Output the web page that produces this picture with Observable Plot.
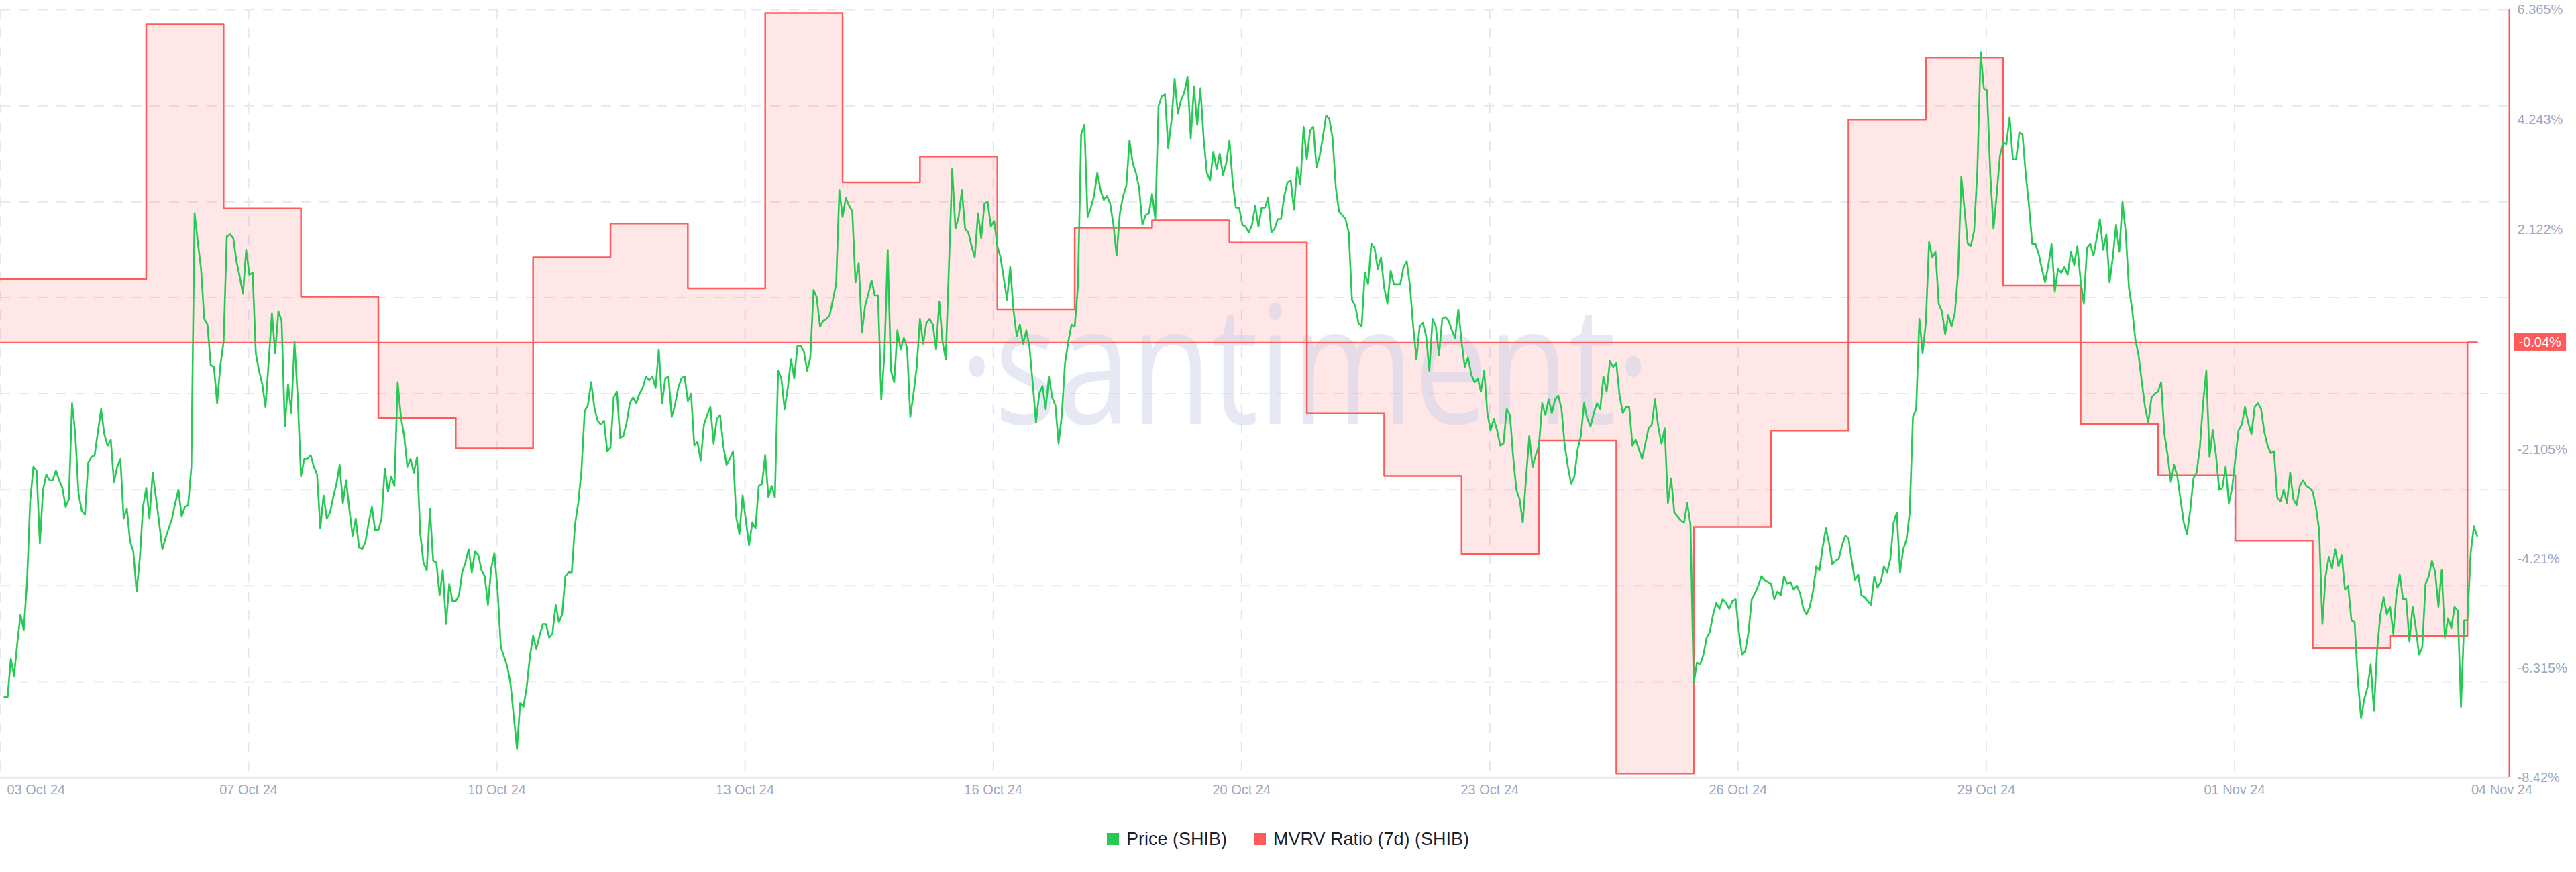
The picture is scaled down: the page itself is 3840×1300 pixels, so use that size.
<!DOCTYPE html>
<html>
<head>
<meta charset="utf-8">
<script src="https://cdn.jsdelivr.net/npm/d3@7"></script>
<script src="https://cdn.jsdelivr.net/npm/@observablehq/plot@0.6"></script>
<style>
html, body { margin: 0; padding: 0; background: #ffffff; }
#wrap { position: relative; width: 3840px; height: 1300px; background: #ffffff; overflow: hidden; font-family: "Liberation Sans", Arial, sans-serif; }
.layer { position: absolute; left: 0; top: 0; }
.layer svg { display: block; background: transparent; }
#legend { position: absolute; left: 0; top: 1232px; width: 3840px; height: 38px; display: flex; justify-content: center; align-items: center; font-size: 27px; color: #1b1e2d; }
#legend .item { display: flex; align-items: center; margin: 0 20px; }
#legend .sw { width: 18px; height: 18px; margin-right: 11px; }
</style>
</head>
<body>
<div id="wrap">
  <div id="l1" class="layer"></div>
  <div id="l2" class="layer"></div>
  <div id="l3" class="layer"></div>
  <div id="legend"></div>
</div>
<script>
// ---------------- DATA ----------------
const seriesNames = ["Price (SHIB)", "MVRV Ratio (7d) (SHIB)"];
const seriesColors = ["#26c953", "#ff5b5b"];

// visible time window
const xStart = "2024-10-04T02:45:00Z";
const xEnd = "2024-11-05T12:58:00Z";

// SHIB price, hourly readings starting at priceStart, in units of 1e-8 USD
const priceStart = "2024-10-04T04:00:00Z";
const priceUnit = 1e-8;
const shibPrice = [
1642,1642,1662,1653,1670,1685,1677,1701,1744,1762,1760,1722,1750,1758,1755,1755,1760,1755,1751,1741,
1745,1795,1779,1748,1739,1737,1764,1767,1768,1780,1792,1779,1773,1776,1754,1762,1766,1735,1740,1723,
1718,1697,1714,1741,1751,1735,1759,1746,1733,1719,1725,1730,1735,1743,1750,1736,1741,1742,1762,1894,
1879,1865,1839,1836,1815,1814,1795,1815,1827,1882,1883,1881,1869,1861,1852,1875,1862,1863,1821,1812,
1805,1793,1817,1842,1821,1843,1838,1783,1805,1790,1827,1798,1757,1766,1766,1768,1762,1758,1730,1747,
1735,1738,1746,1753,1763,1743,1755,1740,1726,1735,1720,1719,1723,1733,1741,1729,1729,1735,1761,1749,
1757,1752,1806,1788,1778,1762,1766,1759,1767,
1727,1712,1708,1740,1713,1712,1695,1708,1680,1701,1692,1692,1695,1707,1712,1719,1707,1718,1716,1708,
1705,1690,1709,1717,1697,1668,1663,1658,1649,1632,1615,1639,1637,1647,1663,1674,1667,1674,1680,1680,
1673,1675,1690,1681,1685,1705,1707,1707,1732,1743,1760,1791,1794,1806,1793,1786,1784,1786,1770,1772,
1798,1801,1777,1778,1785,1795,1798,1795,1800,1803,1809,1807,1809,1803,1823,1795,1808,1809,1788,1794,
1803,1808,1809,1796,1800,1773,1775,1765,1784,1789,1793,1774,1787,1789,1773,1763,1766,1770,1736,1727,
1747,1734,1721,1733,1730,1752,1753,1768,1746,1752,1746,1812,1808,1792,1803,1818,1808,1825,1825,1822,
1812,1819,1854,1850,1835,1838,1839,1841,1849,
1857,1906,1892,1902,1898,1895,1858,1868,1832,1846,1852,1859,1851,1851,1797,1821,1875,1812,1806,1833,
1823,1829,1824,1788,1800,1814,1839,1826,1837,1839,1836,1823,1848,1827,1818,1867,1917,1886,1892,1906,
1886,1884,1877,1871,1894,1881,1899,1900,1887,1890,1877,1871,1860,1849,1866,1844,1830,1836,1826,1833,
1824,1805,1785,1800,1804,1792,1809,1798,1794,1774,1789,1816,1827,1836,1835,1856,1935,1940,1892,1897,
1903,1915,1906,1901,1903,1899,1888,1872,1894,1903,1908,1932,1920,1915,1907,1888,1893,1894,1904,1891,
1950,1955,1956,1928,1942,1964,1946,1953,1957,1965,1933,1960,1940,1959,1933,1915,1911,1926,1917,1925,
1914,1920,1932,1910,1897,1897,1888,1887,1884,
1888,1898,1887,1897,1897,1902,1884,1886,1891,1891,1903,1910,1911,1896,1918,1909,1939,1922,1937,1939,
1918,1924,1934,1945,1943,1933,1907,1895,1893,1891,1884,1849,1846,1837,1835,1863,1857,1878,1876,1865,
1871,1855,1847,1864,1857,1857,1857,1866,1869,1856,1835,1818,1835,1837,1830,1812,1839,1835,1820,1839,
1840,1838,1833,1829,1844,1827,1814,1819,1810,1806,1808,1801,1812,1790,1781,1787,1781,1773,1774,1792,
1789,1767,1750,1745,1733,1756,1778,1762,1768,1773,1795,1789,1797,1790,1797,1799,1792,1773,1762,1753,
1757,1771,1778,1795,1787,1783,1790,1795,1792,1809,1801,1817,1814,1816,1799,1790,1793,1793,1773,1776,
1771,1766,1774,1782,1784,1797,1783,1774,1782,
1743,1756,1738,1736,1734,1733,1743,1732,1649,1660,1659,1664,1673,1676,1685,1691,1688,1693,1691,1688,
1692,1693,1676,1664,1666,1676,1693,1696,1700,1705,1703,1702,1701,1693,1697,1695,1705,1701,1702,1698,
1700,1696,1688,1685,1689,1697,1710,1708,1720,1730,1722,1711,1713,1714,1721,1726,1725,1713,1703,1706,
1695,1694,1692,1690,1705,1699,1702,1710,1707,1714,1733,1738,1707,1719,1724,1738,1788,1792,1839,1821,
1837,1879,1871,1874,1847,1843,1831,1841,1835,1842,1863,1913,1896,1878,1877,1885,1917,1978,1959,1958,
1914,1886,1904,1924,1931,1930,1944,1922,1922,1936,1935,1914,1898,1878,1878,1873,1865,1858,1867,1878,
1853,1865,1863,1866,1862,1874,1867,1877,1859,
1847,1876,1878,1872,1881,1891,1875,1883,1858,1871,1888,1874,1900,1884,1855,1844,1828,1820,1806,1793,
1785,1798,1800,1801,1806,1779,1768,1754,1763,1757,1745,1733,1727,1739,1756,1759,1772,1795,1812,1767,
1781,1768,1750,1751,1762,1743,1751,1766,1781,1784,1793,1785,1779,1793,1795,1792,1780,1773,1769,1770,
1746,1744,1750,1743,1759,1745,1742,1752,1755,1752,1751,1749,1741,1729,1680,1705,1715,1709,1719,1710,
1716,1698,1700,1682,1681,1651,1631,1641,1647,1659,1635,1667,1685,1694,1685,1689,1675,1696,1706,1693,
1693,1671,1689,1678,1664,1668,1701,1705,1713,1707,1689,1708,1673,1683,1678,1689,1687,1637,1682,1682,
1717,1731,1726
];

// MVRV Ratio (7d), daily values (%), plus the latest reading
const mvrvDates = [
"2024-10-04","2024-10-05","2024-10-06","2024-10-07","2024-10-08","2024-10-09","2024-10-10","2024-10-11",
"2024-10-12","2024-10-13","2024-10-14","2024-10-15","2024-10-16","2024-10-17","2024-10-18","2024-10-19",
"2024-10-20","2024-10-21","2024-10-22","2024-10-23","2024-10-24","2024-10-25","2024-10-26","2024-10-27",
"2024-10-28","2024-10-29","2024-10-30","2024-10-31","2024-11-01","2024-11-02","2024-11-03","2024-11-04",
"2024-11-05","2024-11-05T03:00:00Z"
];
const mvrvValues = [
1.18,1.18,6.08,2.54,0.84,-1.49,-2.08,1.60,2.25,1.00,6.30,3.04,3.54,0.60,2.17,2.31,1.88,
-1.40,-2.61,-4.11,-1.93,-8.34,-3.59,-1.74,4.25,5.44,1.05,-1.61,-2.60,-3.86,-5.92,-5.69,-0.04,-0.04
];

// axes
const mvrvTicks = [6.365, 4.243, 2.122, -2.105, -4.21, -6.315, -8.42];
const priceGrid = [1650, 1700, 1750, 1800, 1850, 1900, 1950, 2000];
const priceFloor = 1600;
const gridDates = ["2024-10-04T02:45:00Z","2024-10-07T07:45:00Z","2024-10-10T12:45:00Z","2024-10-13T17:45:00Z",
"2024-10-16T22:45:00Z","2024-10-20T03:45:00Z","2024-10-23T08:45:00Z","2024-10-26T13:45:00Z",
"2024-10-29T18:45:00Z","2024-11-01T23:45:00Z"];
const xTickDates = gridDates.slice(1);
const xTickLabels = ["07 Oct 24","10 Oct 24","13 Oct 24","16 Oct 24","20 Oct 24","23 Oct 24","26 Oct 24","29 Oct 24","01 Nov 24"];
const firstLabel = "03 Oct 24";
const lastLabel = "04 Nov 24";
const watermark = "\u00B7santiment\u00B7";

// ---------------- BUILD ----------------
const RED = seriesColors[1], GREEN = seriesColors[0];
const AXIS_TXT = "#9da7c0";
const GRID = "#e4e7f1";
const FONT = "Liberation Sans, Arial, sans-serif";

const t0 = new Date(priceStart).getTime();
const priceRows = shibPrice.map((v, i) => ({date: new Date(t0 + i * 3600e3), price: v * priceUnit}));
const mvrvRows = mvrvDates.map((d, i) => ({date: new Date(d), value: mvrvValues[i]}));
const last = mvrvValues[mvrvValues.length - 1];
const lastDate = mvrvRows[mvrvRows.length - 1].date;
const xTickRows = xTickDates.map((d, i) => ({date: new Date(d), label: xTickLabels[i]}));

const frame = {width: 3840, height: 1210, marginLeft: 0, marginRight: 100, marginTop: 14, marginBottom: 51};
const xScale = {type: "utc", domain: [new Date(xStart), new Date(xEnd)], axis: null};
const yPrice = {domain: [priceFloor * priceUnit, 2000 * priceUnit], axis: null};
const yMvrv = {domain: [-8.42, 6.365], axis: null};
const style = {background: "transparent", fontFamily: FONT, overflow: "visible"};

// layer 1: grid (price scale)
const p1 = Plot.plot({
  ...frame, x: xScale, y: yPrice, style,
  marks: [
    Plot.ruleY(priceGrid.map(v => v * priceUnit), {stroke: GRID, strokeWidth: 2, strokeDasharray: "15,13"}),
    Plot.ruleX(gridDates.map(d => new Date(d)), {stroke: GRID, strokeWidth: 2, strokeDasharray: "15,13"}),
    Plot.ruleY([priceFloor * priceUnit], {stroke: "#e1e6ef", strokeWidth: 2})
  ]
});
document.getElementById("l1").appendChild(p1);

// layer 2: MVRV (right scale)
const p2 = Plot.plot({
  ...frame, x: xScale, y: yMvrv, style,
  marks: [
    Plot.area(mvrvRows, {x1: "date", y1: () => last, y2: "value", curve: "step-after", fill: RED, fillOpacity: 0.15, clip: true}),
    Plot.text([watermark], {text: d => d, frameAnchor: "middle", dx: 75, dy: -33, fontSize: 245, fontFamily: "Open Sans", fill: "#c8cee6", fillOpacity: 0.45}),
    Plot.ruleY([last], {x1: () => new Date(xStart), x2: () => lastDate, stroke: RED, strokeWidth: 1.5}),
    Plot.line(mvrvRows, {x: "date", y: "value", curve: "step-after", stroke: RED, strokeWidth: 2.5, clip: true}),
    Plot.ruleX([new Date(xEnd)], {stroke: RED, strokeWidth: 2}),
    Plot.text(mvrvTicks, {y: d => d, text: d => d + "%", frameAnchor: "right", textAnchor: "start", dx: 12, fontSize: 20, fill: AXIS_TXT}),
    Plot.text([last], {y: d => d, text: d => d.toFixed(2) + "%", frameAnchor: "right", textAnchor: "start", dx: 14, fontSize: 20, fill: "#ffffff"}),
    Plot.text(xTickRows, {x: "date", text: "label", frameAnchor: "bottom", lineAnchor: "top", dy: 10, fontSize: 20, fill: AXIS_TXT}),
    Plot.text([firstLabel], {text: d => d, frameAnchor: "bottom-left", textAnchor: "start", lineAnchor: "top", dx: 10, dy: 10, fontSize: 20, fill: AXIS_TXT}),
    Plot.text([lastLabel], {text: d => d, frameAnchor: "bottom-right", textAnchor: "middle", lineAnchor: "top", dx: -11, dy: 10, fontSize: 20, fill: AXIS_TXT})
  ]
});
document.getElementById("l2").appendChild(p2);

// layer 3: price line (hidden left scale)
const p3 = Plot.plot({
  ...frame, x: xScale, y: yPrice, style,
  marks: [
    Plot.line(priceRows, {x: "date", y: "price", stroke: GREEN, strokeWidth: 2.6})
  ]
});
document.getElementById("l3").appendChild(p3);

// post-process: label box behind latest value, condensed watermark
const lastText = last.toFixed(2) + "%";
d3.select(p2).selectAll("text").each(function() {
  if (this.textContent === lastText) {
    const bb = this.getBBox();
    const rect = document.createElementNS("http://www.w3.org/2000/svg", "rect");
    rect.setAttribute("x", bb.x - 7);
    rect.setAttribute("y", bb.y - 2);
    rect.setAttribute("width", bb.width + 14);
    rect.setAttribute("height", bb.height + 4);
    rect.setAttribute("fill", RED);
    const tf = this.getAttribute("transform");
    if (tf) rect.setAttribute("transform", tf);
    this.parentNode.insertBefore(rect, this);
  }
  if (this.textContent === watermark) {
    this.setAttribute("textLength", 1030);
    this.setAttribute("lengthAdjust", "spacingAndGlyphs");
  }
});

// legend
const legend = d3.select("#legend");
seriesNames.forEach((name, i) => {
  const item = legend.append("div").attr("class", "item");
  item.append("div").attr("class", "sw").style("background", seriesColors[i]);
  item.append("span").text(name);
});
</script>
</body>
</html>
